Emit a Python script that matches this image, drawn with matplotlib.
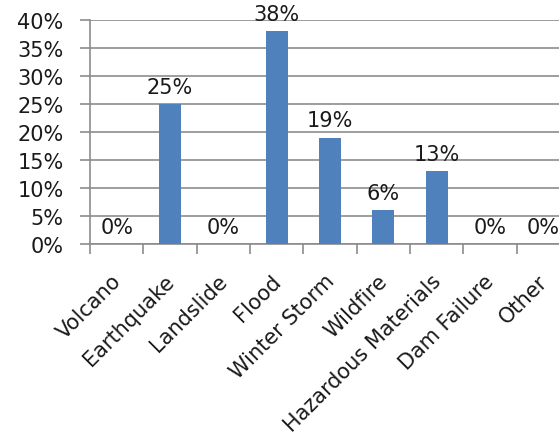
import matplotlib.pyplot as plt
import matplotlib.transforms as mtransforms
from matplotlib.ticker import FixedLocator, PercentFormatter

# --- Data ---
categories = ["Volcano", "Earthquake", "Landslide", "Flood", "Winter Storm",
              "Wildfire", "Hazardous Materials", "Dam Failure", "Other"]
shares = [0, 25, 0, 38, 19, 6, 13, 0, 0]  # percent of responses
y_ticks = [0, 5, 10, 15, 20, 25, 30, 35, 40]

bar_color = "#4F81BD"
grid_color = "#8C8C8C"
text_color = "#1a1a1a"
fs = 15

fig = plt.figure(figsize=(5.59, 4.35), dpi=100)
# plot area runs past the right edge of the figure
ax = fig.add_axes([90 / 559, 190 / 435, 480 / 559, 224 / 435])

x = list(range(len(categories)))
ax.bar(x, shares, width=0.41, color=bar_color, zorder=3)

for xi, val in zip(x, shares):
    ax.annotate(f"{val}%", (xi, val), xytext=(0, 8), textcoords="offset points",
                ha="center", va="baseline", fontsize=fs, color=text_color, zorder=4)

ax.set_xlim(-0.5, len(categories) - 0.5)
ax.set_ylim(0, 40)

# y axis
ax.set_yticks(y_ticks)
ax.yaxis.set_major_formatter(PercentFormatter(decimals=0))
ax.yaxis.grid(True, color=grid_color, linewidth=1.2, zorder=1)
ax.tick_params(axis="y", direction="out", length=7, width=1.2, color=grid_color,
               pad=12, labelsize=fs, labelcolor=text_color)

# x axis: labels at centers, tick marks between categories
ax.set_xticks(x)
ax.set_xticklabels(categories, rotation=45, ha="right", rotation_mode="anchor")
ax.xaxis.set_minor_locator(FixedLocator([i - 0.5 for i in range(len(categories) + 1)]))
ax.tick_params(axis="x", which="major", length=0, pad=19, labelsize=fs,
               labelcolor=text_color)
ax.tick_params(axis="x", which="minor", direction="out", length=7, width=1.2,
               color=grid_color)

# nudge the slanted labels a little to the left
shift = mtransforms.ScaledTranslation(-6 / 100, 0, fig.dpi_scale_trans)
for lbl in ax.get_xticklabels():
    lbl.set_transform(lbl.get_transform() + shift)

for side in ["top", "right"]:
    ax.spines[side].set_visible(False)
for side in ["left", "bottom"]:
    ax.spines[side].set_color(grid_color)
    ax.spines[side].set_linewidth(1.2)

fig.savefig("out.png", dpi=100)
